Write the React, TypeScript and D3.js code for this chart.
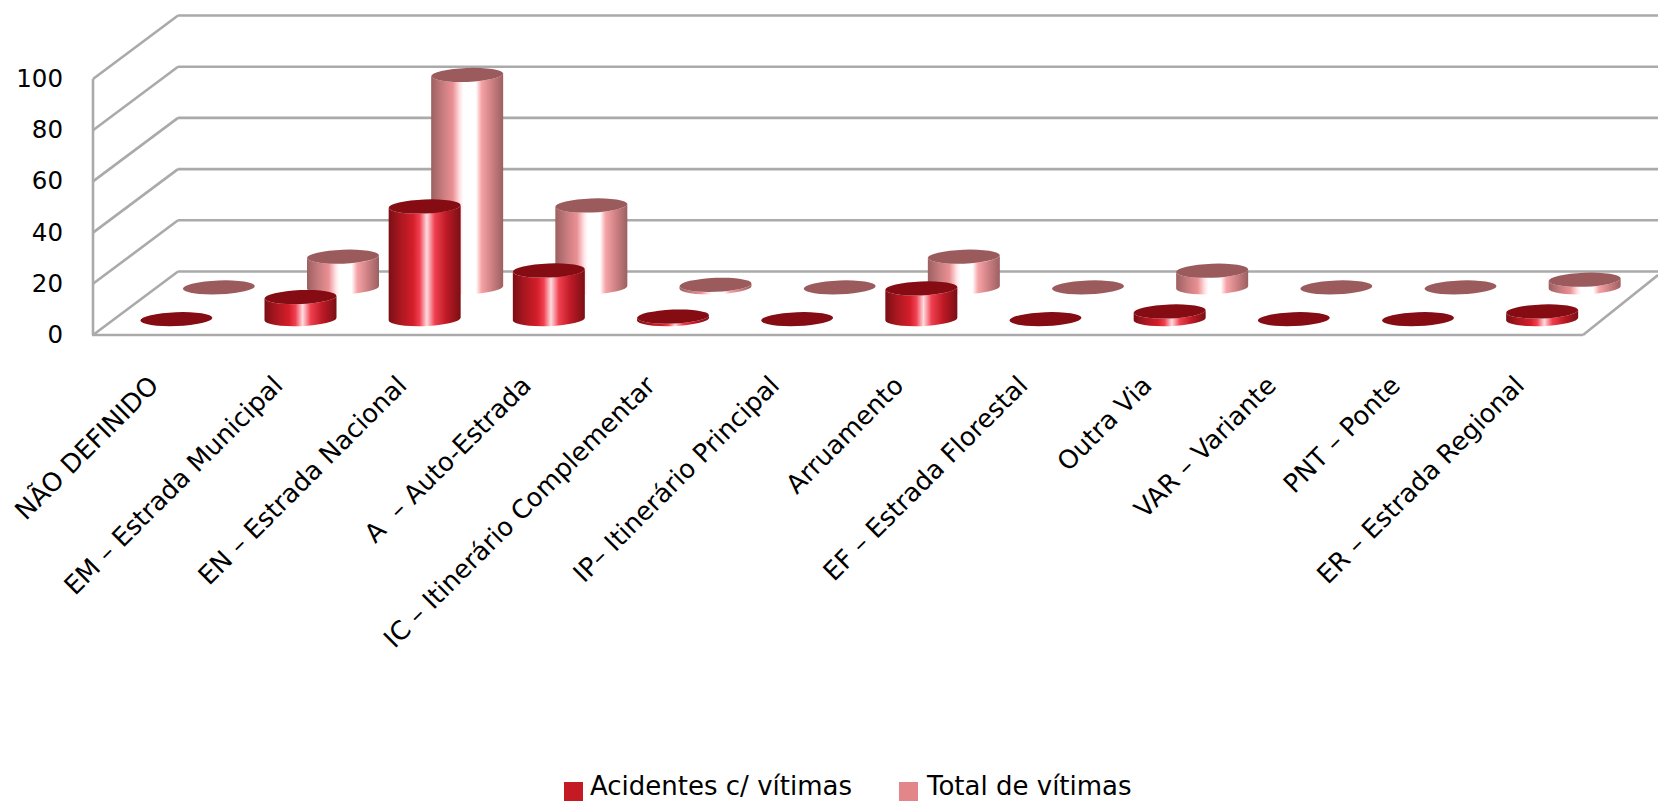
import * as React from 'react'
import * as d3 from 'd3'

const categories = [
  'NÃO DEFINIDO',
  'EM – Estrada Municipal',
  'EN – Estrada Nacional',
  'A \u00a0– Auto-Estrada',
  'IC – Itinerário Complementar',
  'IP– Itinerário Principal',
  'Arruamento',
  'EF – Estrada Florestal',
  'Outra Via',
  'VAR – Variante',
  'PNT – Ponte',
  'ER – Estrada Regional',
]
const acidentes = [0, 8.6, 44, 19, 1, 0, 12, 0, 3, 0, 0, 3]
const vitimas = [0, 12, 83, 32, 1, 0, 12, 0, 6.5, 0, 0, 3]
const yTicks = [0, 20, 40, 60, 80, 100]

const width = 1658
const height = 802
const font = '"DejaVu Sans", sans-serif'

const xScale = d3.scaleBand<string>().domain(categories).range([93, 1583])
const yScale = d3.scaleLinear().domain([0, 100]).range([335, 79])
// depth of the 3D box: 0 = front edge, 1 = back wall
const depthX = d3.scaleLinear().domain([0, 1]).range([0, 85])
const depthY = d3.scaleLinear().domain([0, 1]).range([0, -63.5])

const rx = 36
const ry = 7
const tilt = -2.2
const tiltDy = rx * Math.sin((tilt * Math.PI) / 180)

const series = [
  { name: 'Acidentes c/ vítimas', values: acidentes, depth: 0.25, grad: 'redBody', top: '#860c14', swatch: '#c41a24', legendX: 564, textX: 590 },
  { name: 'Total de vítimas', values: vitimas, depth: 0.75, grad: 'pinkBody', top: '#9b5b5d', swatch: '#e2868a', legendX: 899, textX: 927 },
]

const Cylinder = ({ cx, base, top, grad, topFill }) => {
  const h = base - top
  const body =
    `M${cx - rx},${top - tiltDy} L${cx - rx},${base - tiltDy} ` +
    `A${rx},${ry} ${tilt} 0 0 ${cx + rx},${base + tiltDy} ` +
    `L${cx + rx},${top + tiltDy} A${rx},${ry} ${tilt} 0 1 ${cx - rx},${top - tiltDy} Z`
  return (
    <g>
      {h > 0.5 && <path d={body} fill={`url(#${grad})`} />}
      <ellipse cx={cx} cy={top} rx={rx} ry={ry} fill={topFill} transform={`rotate(${tilt} ${cx} ${top})`} />
    </g>
  )
}

export default function App() {
  const band = xScale.bandwidth()
  return (
    <svg width={width} height={height} style={{ position: 'absolute', left: 0, top: 0, background: '#fff' }}>
      <defs>
        <linearGradient id="redBody">
          <stop offset="0" stopColor="#7a0f15" />
          <stop offset="0.14" stopColor="#a5161e" />
          <stop offset="0.34" stopColor="#d41e2a" />
          <stop offset="0.43" stopColor="#f04050" />
          <stop offset="0.53" stopColor="#ffdce0" />
          <stop offset="0.64" stopColor="#f04050" />
          <stop offset="0.8" stopColor="#bf1a26" />
          <stop offset="1" stopColor="#7a0f15" />
        </linearGradient>
        <linearGradient id="pinkBody">
          <stop offset="0" stopColor="#9c6062" />
          <stop offset="0.16" stopColor="#c87c7e" />
          <stop offset="0.3" stopColor="#ea9094" />
          <stop offset="0.4" stopColor="#ffe4e6" />
          <stop offset="0.45" stopColor="#ffffff" />
          <stop offset="0.62" stopColor="#ffffff" />
          <stop offset="0.7" stopColor="#f6a2a6" />
          <stop offset="0.86" stopColor="#c87c7e" />
          <stop offset="1" stopColor="#9c6062" />
        </linearGradient>
      </defs>

      <g stroke="#aaaaaa" strokeWidth={2.6} fill="none">
        {yTicks.map((t) => (
          <g key={t}>
            <line x1={93} y1={yScale(t)} x2={93 + depthX(1)} y2={yScale(t) + depthY(1)} />
            <line x1={93 + depthX(1)} y1={yScale(t) + depthY(1)} x2={width} y2={yScale(t) + depthY(1)} />
          </g>
        ))}
        <line x1={93} y1={yScale(100)} x2={93} y2={yScale(0)} />
        <line x1={92} y1={yScale(0)} x2={1583} y2={yScale(0)} />
        <line x1={1583} y1={yScale(0)} x2={width} y2={yScale(0) - 60} />
      </g>

      {[series[1], series[0]].map((s) => (
        <g key={s.name}>
          {s.values.map((v, i) => {
            const cx = xScale(categories[i]) + band / 2 + depthX(s.depth)
            return (
              <Cylinder
                key={i}
                cx={cx}
                base={yScale(0) + depthY(s.depth)}
                top={yScale(v) + depthY(s.depth)}
                grad={s.grad}
                topFill={s.top}
              />
            )
          })}
        </g>
      ))}

      <g fontFamily={font} fontSize={24.5} fill="#000" textAnchor="end">
        {yTicks.map((t) => (
          <text key={t} x={63} y={yScale(t) + 8}>{t}</text>
        ))}
      </g>

      <g fontFamily={font} fontSize={25.7} fill="#000" textAnchor="end">
        {categories.map((c) => {
          const x = xScale(c) + band / 2 + 5
          return (
            <text key={c} x={x} y={387} transform={`rotate(-45 ${x} 387)`}>{c}</text>
          )
        })}
      </g>

      <g fontFamily={font} fontSize={26} fill="#000">
        {series.map((s) => (
          <g key={s.name}>
            <rect x={s.legendX} y={782} width={19} height={19} fill={s.swatch} />
            <text x={s.textX} y={795}>{s.name}</text>
          </g>
        ))}
      </g>
    </svg>
  )
}
